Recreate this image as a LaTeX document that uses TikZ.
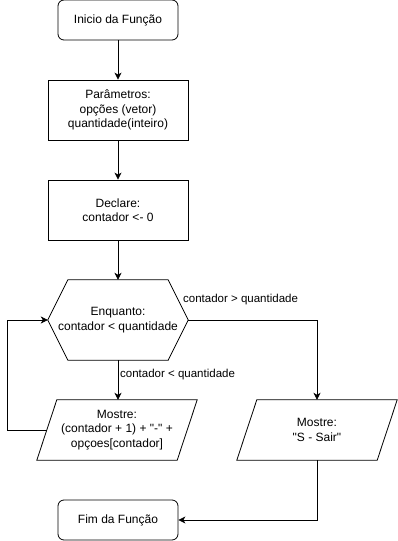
\documentclass[tikz,border=0pt]{standalone}
\usepackage{fontspec}
\setmainfont{Liberation Sans}[Ligatures=TeXOff]
\usetikzlibrary{arrows.meta,calc}
\begin{document}
\begin{tikzpicture}[x=1pt,y=-1pt,
  every node/.style={font=\fontsize{12}{14.5}\selectfont, align=center, inner sep=0pt},
  terminal/.style={draw, rounded corners=6pt, minimum width=120pt, minimum height=40pt, line width=0.8pt},
  process/.style={draw, minimum width=140pt, minimum height=60pt, line width=0.8pt},
  loopbox/.style={minimum width=140pt, minimum height=80pt},
  iobox/.style={minimum width=140pt, minimum height=60pt},
  outline/.style={draw, line width=0.8pt, line join=miter},
  flow/.style={draw, line width=0.8pt, -{Stealth[length=7pt,width=7pt,inset=2pt]}},
  cond/.style={anchor=west, font=\fontsize{11.5}{13}\selectfont}
]
\useasboundingbox (0,0) rectangle (398,541);

% blocks of the flowchart
\node[terminal] (start)  at (118,20)  {Inicio da Função};
\node[process]  (params) at (118,110) {Parâmetros:\\opções (vetor)\\quantidade(inteiro)};
\node[process]  (decl)   at (118,210) {Declare:\\contador <- 0};
\node[loopbox]  (loop)   at (118,320) {Enquanto:\\contador < quantidade};
\node[iobox]    (show1)  at (117,430) {Mostre:\\(contador + 1) + "-" +\\opçoes[contador]};
\node[iobox]    (show2)  at (317,430) {Mostre:\\"S - Sair"};
\node[terminal] (finish) at (118,520) {Fim da Função};

% hexagon of the loop test
\path[outline] (loop.west) -- ($(loop.north west)+(20,0)$) -- ($(loop.north east)+(-20,0)$)
  -- (loop.east) -- ($(loop.south east)+(-20,0)$) -- ($(loop.south west)+(20,0)$) -- cycle;

% parallelograms of the output steps
\foreach \n in {show1,show2}{
  \path[outline] ($(\n.north west)+(10,0)$) -- ($(\n.north east)+(10,0)$)
    -- ($(\n.south east)+(-10,0)$) -- ($(\n.south west)+(-10,0)$) -- cycle;
}

% connectors
\path[flow] (start) -- (params);
\path[flow] (params) -- (decl);
\path[flow] (decl) -- (loop);
\path[flow] (loop.south) -- (loop.south |- show1.north);
\coordinate (back) at (7.5,430);
\path[flow] (show1.west) -- (back) |- (loop.west);
\coordinate (exitcorner) at (317,320);
\path[flow] (loop.east) -- (exitcorner) -- (show2.north);
\path[flow] (show2.south) |- (finish.east);

% branch labels
\node[cond] (lblexit) at (183,300) {contador > quantidade};
\node[cond] (lblbody) at (120,375) {contador < quantidade};
\end{tikzpicture}
\end{document}
